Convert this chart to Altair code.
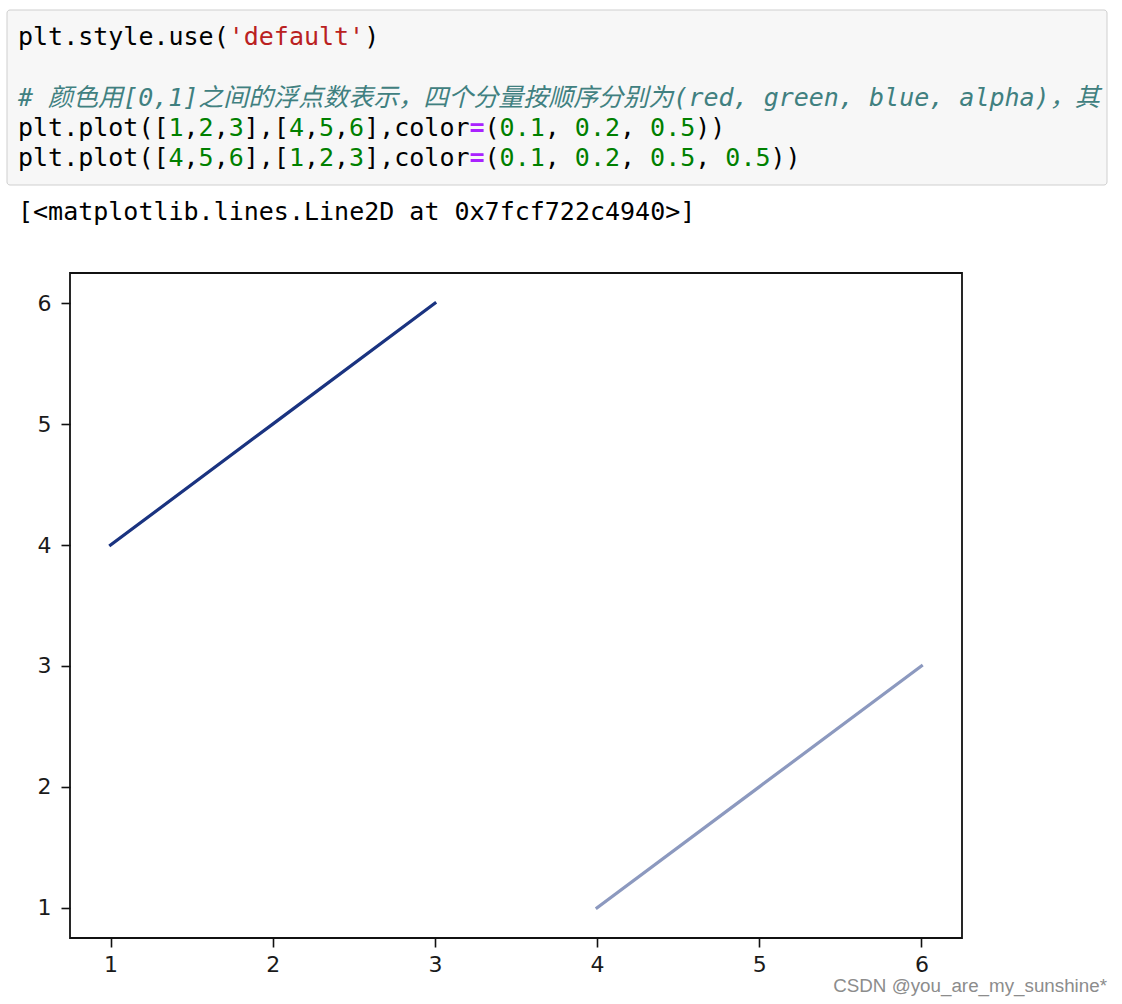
import re
import altair as alt
import pandas as pd

# ---------------- data ----------------
line1_x = [1, 2, 3]
line1_y = [4, 5, 6]
line2_x = [4, 5, 6]
line2_y = [1, 2, 3]
line1_rgba = "rgba(25.5, 51, 127.5, 1)"      # (0.1, 0.2, 0.5)
line2_rgba = "rgba(25.5, 51, 127.5, 0.5)"    # (0.1, 0.2, 0.5, 0.5)
x_ticks = [1, 2, 3, 4, 5, 6]
y_ticks = [1, 2, 3, 4, 5, 6]
axis_domain = [0.75, 6.25]

code_lines = [
    "plt.style.use('default')",
    "",
    "# 颜色用[0,1]之间的浮点数表示，四个分量按顺序分别为(red, green, blue, alpha)，其",
    "plt.plot([1,2,3],[4,5,6],color=(0.1, 0.2, 0.5))",
    "plt.plot([4,5,6],[1,2,3],color=(0.1, 0.2, 0.5, 0.5))",
]
output_line = "[<matplotlib.lines.Line2D at 0x7fcf722c4940>]"
watermark = "CSDN @you_are_my_sunshine*"

# ---------------- layout ----------------
W, H = 892, 665
PAD = {"left": 70, "top": 273, "right": 160, "bottom": 66}
MONO = "DejaVu Sans Mono"
FS = 25
CHAR_W = FS * 0.602
X0 = 18 - PAD["left"]
LINE_BASE0 = 45 - PAD["top"]
LINE_STEP = 30.3
OUT_BASE = 220 - PAD["top"]

COLORS = {
    "plain": "#000000",
    "string": "#BA2121",
    "number": "#008000",
    "op": "#AA22FF",
    "comment": "#408080",
}

tok_re = re.compile(r"'[^']*'|\d+(?:\.\d+)?|=|[^'\d=]+")
rows = []
for i, line in enumerate(code_lines):
    base = LINE_BASE0 + i * LINE_STEP
    if not line:
        continue
    if line.startswith("#"):
        rows.append(dict(text=line, col=0, kind="comment", base=base))
        continue
    for m in tok_re.finditer(line):
        t = m.group(0)
        if t.startswith("'"):
            kind = "string"
        elif t[0].isdigit():
            kind = "number"
        elif t == "=":
            kind = "op"
        else:
            kind = "plain"
        rows.append(dict(text=t, col=m.start(), kind=kind, base=base))
rows.append(dict(text=output_line, col=0, kind="plain", base=OUT_BASE))

tokens = pd.DataFrame(rows)
tokens["px"] = X0 + tokens["col"] * CHAR_W
tokens["py"] = tokens["base"]
tokens["color"] = tokens["kind"].map(COLORS)

lines_df = pd.DataFrame({
    "x": line1_x + line2_x,
    "y": line1_y + line2_y,
    "series": ["first"] * len(line1_x) + ["second"] * len(line2_x),
    "rgba": [line1_rgba] * len(line1_x) + [line2_rgba] * len(line2_x),
})

one = pd.DataFrame({"k": [0]})

# ---------------- layers ----------------
cell = alt.Chart(one).mark_rect(
    fill="#f7f7f7", stroke="#cfcfcf", strokeWidth=1, cornerRadius=3
).encode(
    x=alt.value(7 - PAD["left"]), x2=alt.value(1107 - PAD["left"]),
    y=alt.value(10 - PAD["top"]), y2=alt.value(185 - PAD["top"]),
)

def code_layer(kinds, **kw):
    return alt.Chart(tokens).transform_filter(
        alt.FieldOneOfPredicate(field="kind", oneOf=kinds)
    ).mark_text(
        align="left", baseline="alphabetic", fontSize=FS, **kw
    ).encode(
        x=alt.X("px:Q", scale=None, axis=None),
        y=alt.Y("py:Q", scale=None, axis=None),
        text="text:N",
        color=alt.Color("color:N", scale=None),
    )

code_plain = code_layer(["plain", "string", "number"], font=MONO)
code_op = code_layer(["op"], font=MONO, fontWeight="bold")
code_comment = code_layer(["comment"], font=f"{MONO}, Noto Sans CJK SC", fontStyle="italic")

wm = alt.Chart(pd.DataFrame({"t": [watermark]})).mark_text(
    align="right", baseline="alphabetic", font="Liberation Sans", fontSize=18.8,
    color="#8c8c8c"
).encode(
    x=alt.value(1107 - PAD["left"]), y=alt.value(992 - PAD["top"]), text="t:N"
)

axis_common = dict(
    labelFont="DejaVu Sans", labelFontSize=22, labelColor="#1a1a1a",
    tickColor="#111111", tickWidth=1.6, tickSize=9, domain=False, grid=False,
    title=None,
)

plot = alt.Chart(lines_df).mark_line(strokeWidth=3.2, strokeCap="square").encode(
    x=alt.X("x:Q", scale=alt.Scale(domain=axis_domain, nice=False, zero=False),
            axis=alt.Axis(values=x_ticks, format="d", labelPadding=7, **axis_common)),
    y=alt.Y("y:Q", scale=alt.Scale(domain=axis_domain, nice=False, zero=False),
            axis=alt.Axis(values=y_ticks, format="d", labelPadding=10, **axis_common)),
    detail="series:N",
    color=alt.Color("rgba:N", scale=None),
)

chart = alt.layer(cell, code_plain, code_op, code_comment, wm, plot).properties(
    width=W, height=H, padding=PAD,
    autosize=alt.AutoSizeParams(type="none"),
    background="white",
).configure_view(stroke="#111111", strokeWidth=1.8)

chart.save("out.html", embed_options={"renderer": "svg", "actions": False})
